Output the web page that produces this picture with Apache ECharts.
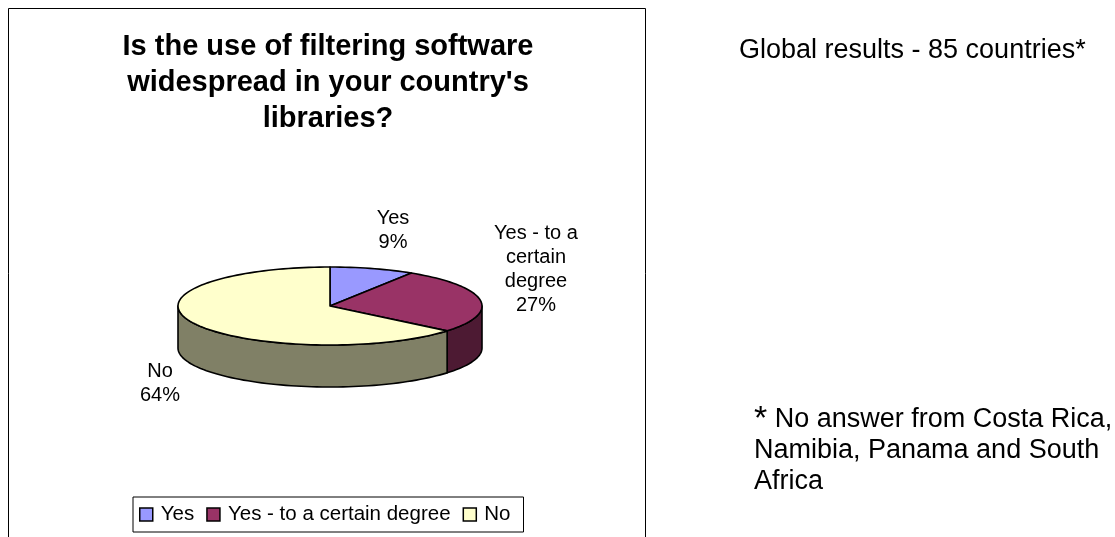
<!DOCTYPE html>
<html><head><meta charset="utf-8">
<script src="https://cdn.jsdelivr.net/npm/echarts@6/dist/echarts.min.js"></script>
<style>html,body{margin:0;padding:0;background:#fff}#c{width:1115px;height:537px}</style>
</head><body><div id="c"></div>
<script>
// ---- data ----
const categories = ['Yes', 'Yes - to a certain degree', 'No'];
const values = [9, 27, 64];
const sliceLabels = ['Yes', 'Yes - to a\ncertain\ndegree', 'No'];
const titleText = "Is the use of filtering software\nwidespread in your country's\nlibraries?";
const sideNote = 'Global results - 85 countries*';
const footNoteLines = ['No answer from Costa Rica,', 'Namibia, Panama and South', 'Africa'];

// ---- styles / layout ----
const topColors = ['#9999FF', '#993366', '#FFFFCC'];
const sideColors = ['#4D4D80', '#4D1A33', '#808066'];
const FONT = "'Liberation Sans', Arial, sans-serif";
const CX = 330, CY = 306, RX = 152, RY = 39, DEPTH = 42;
const labelPos = [[393, 230], [536, 269], [160, 383]];

const total = values.reduce((a, b) => a + b, 0);
const starts = [];
let acc = 0;
values.forEach(v => { starts.push(acc); acc += v; });

function pt(deg, dy) {
  const r = deg * Math.PI / 180;
  return [CX + RX * Math.sin(r), CY - RY * Math.cos(r) + (dy || 0)];
}
function arc(a0, a1, dy) {
  const pts = [];
  const n = Math.max(2, Math.ceil((a1 - a0) / 2));
  for (let i = 0; i <= n; i++) pts.push(pt(a0 + (a1 - a0) * i / n, dy));
  return pts;
}
function makeRender(idx) {
  return function (params, api) {
    const v = api.value(0);
    const a0 = starts[idx] / total * 360;
    const a1 = (starts[idx] + v) / total * 360;
    const children = [];
    const s0 = Math.max(a0, 90), s1 = Math.min(a1, 270);
    if (s1 > s0) {
      const topEdge = arc(s0, s1, 0);
      const botEdge = arc(s0, s1, DEPTH).reverse();
      children.push({
        type: 'polygon', z2: 1,
        shape: { points: topEdge.concat(botEdge) },
        style: { fill: sideColors[idx], stroke: '#000', lineWidth: 1.6, lineJoin: 'round' }
      });
    }
    children.push({
      type: 'polygon', z2: 10,
      shape: { points: [[CX, CY]].concat(arc(a0, a1, 0)) },
      style: { fill: topColors[idx], stroke: '#000', lineWidth: 1.6, lineJoin: 'round' }
    });
    children.push({
      type: 'text', z2: 20,
      x: labelPos[idx][0], y: labelPos[idx][1],
      style: {
        text: sliceLabels[idx] + '\n' + v + '%',
        font: '20px ' + FONT, lineHeight: 24, fill: '#000',
        align: 'center', verticalAlign: 'middle'
      }
    });
    return { type: 'group', children };
  };
}

const chart = echarts.init(document.getElementById('c'), null, { renderer: 'canvas' });
chart.setOption({
  animation: false,
  backgroundColor: '#fff',
  legend: {
    left: 133, top: 497,
    data: categories,
    icon: 'rect',
    itemWidth: 13, itemHeight: 13, itemGap: 12,
    borderColor: '#000', borderWidth: 1,
    padding: [7, 13, 7, 6],
    textStyle: { fontSize: 20.5, fontFamily: FONT, color: '#000', padding: [0, 0, 0, 3] },
    itemStyle: { borderColor: '#000', borderWidth: 1.5 }
  },
  graphic: [
    { type: 'rect', shape: { x: 8.5, y: 8.5, width: 637, height: 560 }, style: { fill: 'none', stroke: '#000', lineWidth: 1 }, silent: true },
    { type: 'text', x: 328, y: 83, style: { text: titleText, font: 'bold 29px ' + FONT, lineHeight: 36, align: 'center', verticalAlign: 'middle', fill: '#000' } },
    { type: 'text', x: 739, y: 51, style: { text: sideNote, font: '27px ' + FONT, align: 'left', verticalAlign: 'middle', fill: '#000' } },
    { type: 'text', x: 754, y: 451, style: {
        text: '{s|*} ' + footNoteLines[0] + '\n' + footNoteLines.slice(1).join('\n'),
        font: '27px ' + FONT, lineHeight: 31, align: 'left', verticalAlign: 'middle', fill: '#000',
        rich: { s: { fontSize: 34, fontFamily: FONT, lineHeight: 31, fill: '#000' } }
      } }
  ],
  series: categories.map((name, i) => ({
    type: 'custom',
    name: name,
    coordinateSystem: 'none',
    itemStyle: { color: topColors[i] },
    renderItem: makeRender(i),
    data: [values[i]]
  }))
});
</script>
</body></html>
